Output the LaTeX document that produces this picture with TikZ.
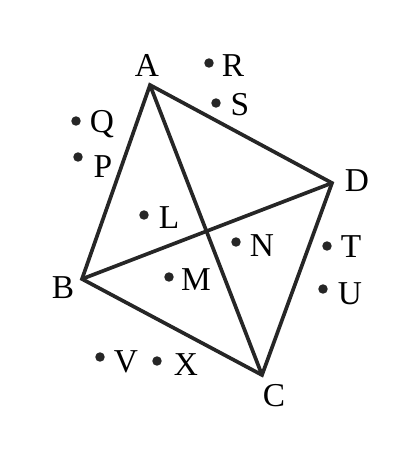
\documentclass[tikz,border=0pt]{standalone}
\usepackage{fontspec}
\setmainfont{Liberation Serif}
\usetikzlibrary{positioning}

\begin{document}
\begin{tikzpicture}[x = .02cm, y = -.02cm,
    edge/.style = {line width = 2.1pt, draw = black!85},
    dot/.style = {circle, fill = black!85, inner sep = 0pt, minimum size = 5.4pt},
    lbl/.style = {inner sep = 0pt, font = \fontsize{19}{22}\selectfont}]
    \useasboundingbox (0,0) rectangle (419,450);
    % vertices of the quadrilateral
    \coordinate (A) at (150,85);
    \coordinate (D) at (332,183);
    \coordinate (C) at (262,375);
    \coordinate (B) at (82,279);
    \node[lbl] (Al) at (147,65) {A};
    \node[lbl] (Dl) at (357,181) {D};
    \node[lbl] (Cl) at (274,396) {C};
    \node[lbl] (Bl) at (63,288) {B};
    %%%%%%%%%%
    \draw[edge, miter limit = 10] (A) -- (D) -- (C) -- (B) -- cycle;
    \draw[edge] (A) -- (C);
    \draw[edge] (B) -- (D);
    %%%%%%%%%%
    \node[dot] (R) at (209,63) {};
    \node[dot] (S) at (216,103) {};
    \node[dot] (Q) at (76,121) {};
    \node[dot] (P) at (78,157) {};
    \node[dot] (L) at (144,215) {};
    \node[dot] (N) at (236,242) {};
    \node[dot] (M) at (169,277) {};
    \node[dot] (T) at (327,246) {};
    \node[dot] (U) at (323,289) {};
    \node[dot] (V) at (100,357) {};
    \node[dot] (X) at (157,361) {};
    %%%%%%%%%%
    \node[lbl] (Rl) at (233,66) {R};
    \node[lbl] (Sl) at (240,105) {S};
    \node[lbl] (Ql) at (102,124) {Q};
    \node[lbl] (Pl) at (103,167) {P};
    \node[lbl] (Ll) at (169,218) {L};
    \node[lbl] (Nl) at (262,246) {N};
    \node[lbl] (Ml) at (196,280) {M};
    \node[lbl] (Tl) at (351,247) {T};
    \node[lbl] (Ul) at (350,294) {U};
    \node[lbl] (Vl) at (126,362) {V};
    \node[lbl] (Xl) at (186,365) {X};
\end{tikzpicture}
\end{document}
